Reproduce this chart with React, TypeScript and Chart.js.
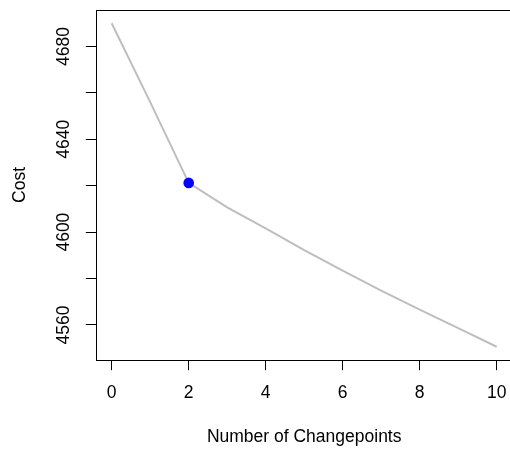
import { useEffect, useRef } from "react";
import { Chart, registerables } from "chart.js";

Chart.register(...registerables);

const changepoints = [0, 1, 2, 3, 4, 5, 6, 7, 8, 9, 10];
const costs = [4690, 4656, 4621.2, 4610.7, 4601.6, 4592.2, 4583.4, 4574.8, 4566.6, 4558.6, 4550.6];
const optimalChangepoints = 2;
const xTicks = [0, 2, 4, 6, 8, 10];
const yTicks = [4560, 4580, 4600, 4620, 4640, 4660, 4680];
const yTickLabels = [4560, 4600, 4640, 4680];
const xTitle = "Number of Changepoints";
const yTitle = "Cost";

const FONT = "'Liberation Sans', Arial, Helvetica, sans-serif";
const FS = 17.5;

const framePlugin = {
  id: "frame",
  afterDatasetsDraw(chart: any) {
    const { ctx, chartArea } = chart;
    const l = Math.round(chartArea.left) + 0.5;
    const t = Math.round(chartArea.top) + 0.5;
    const r = Math.round(chartArea.right) + 0.5;
    const b = Math.round(chartArea.bottom) + 0.5;
    ctx.save();
    ctx.strokeStyle = "#000000";
    ctx.lineWidth = 1;
    ctx.strokeRect(l, t, r - l, b - t);
    ctx.restore();
  },
};

export default function App() {
  const ref = useRef<HTMLCanvasElement | null>(null);

  useEffect(() => {
    if (!ref.current) return;
    const xmin = Math.min(...changepoints);
    const xmax = Math.max(...changepoints);
    const ymin = Math.min(...costs);
    const ymax = Math.max(...costs);
    const xpad = (xmax - xmin) * 0.04;
    const ypad = (ymax - ymin) * 0.04;
    const idx = changepoints.indexOf(optimalChangepoints);

    const chart = new Chart(ref.current, {
      type: "line",
      data: {
        datasets: [
          {
            type: "scatter",
            data: [{ x: changepoints[idx], y: costs[idx] }],
            backgroundColor: "#0000FF",
            borderColor: "#0000FF",
            pointRadius: 5.3,
            pointBorderWidth: 0,
            order: 0,
          } as any,
          {
            type: "line",
            data: changepoints.map((c, i) => ({ x: c, y: costs[i] })),
            borderColor: "#BEBEBE",
            borderWidth: 2,
            pointRadius: 0,
            tension: 0,
            fill: false,
            order: 1,
          },
        ],
      },
      options: {
        animation: false,
        responsive: false,
        devicePixelRatio: 1,
        layout: { padding: { left: 0, top: 10.3, right: 530 - 512.1, bottom: 0 } },
        plugins: { legend: { display: false }, tooltip: { enabled: false } },
        scales: {
          x: {
            type: "linear",
            position: "bottom",
            min: xmin - xpad,
            max: xmax + xpad,
            afterBuildTicks: (scale: any) => {
              scale.ticks = xTicks.map((v) => ({ value: v }));
            },
            afterFit: (scale: any) => {
              scale.height = 454 - 359.7;
              scale.paddingLeft = 0;
              scale.paddingRight = 0;
            },
            ticks: {
              autoSkip: false,
              maxRotation: 0,
              minRotation: 0,
              padding: 12,
              color: "#000000",
              font: { family: FONT, size: FS },
            },
            grid: {
              display: true,
              drawOnChartArea: false,
              drawTicks: true,
              tickLength: 10.5,
              color: "#000000",
              tickWidth: 1,
            },
            border: { display: false },
            title: {
              display: true,
              text: xTitle,
              color: "#000000",
              font: { family: FONT, size: FS },
              padding: { top: 0, bottom: 6.6 },
            },
          },
          y: {
            type: "linear",
            position: "left",
            min: ymin - ypad,
            max: ymax + ypad,
            afterBuildTicks: (scale: any) => {
              scale.ticks = yTicks.map((v) => ({ value: v }));
            },
            afterFit: (scale: any) => {
              scale.width = 96.3;
              scale.paddingTop = 0;
              scale.paddingBottom = 0;
            },
            ticks: {
              autoSkip: false,
              minRotation: 90,
              maxRotation: 90,
              crossAlign: "center",
              padding: 2.3,
              color: "#000000",
              font: { family: FONT, size: FS },
              callback: (v: any) => (yTickLabels.includes(Number(v)) ? String(v) : ""),
            },
            grid: {
              display: true,
              drawOnChartArea: false,
              drawTicks: true,
              tickLength: 10.5,
              color: "#000000",
              tickWidth: 1,
            },
            border: { display: false },
            title: {
              display: true,
              text: yTitle,
              color: "#000000",
              font: { family: FONT, size: FS },
              padding: { top: 9.9, bottom: 0 },
            },
          },
        },
      },
      plugins: [framePlugin],
    });
    return () => chart.destroy();
  }, []);

  return (
    <div style={{ position: "absolute", left: 0, top: 0, width: 510, height: 454, overflow: "hidden", background: "#ffffff" }}>
      <canvas ref={ref} width={530} height={454} style={{ width: 530, height: 454, display: "block" }} />
    </div>
  );
}
